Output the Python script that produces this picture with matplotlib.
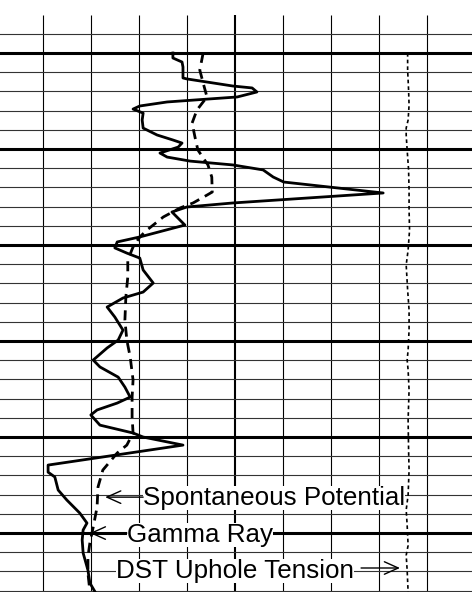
import matplotlib
matplotlib.use('Agg')
import matplotlib.pyplot as plt

# track scale: 0-100 across, 10 units per division
# depth: one unit per thin grid line, heavy line every 5
gr_x = [37.0, 37.0, 38.9, 39.1, 39.1, 39.9, 49.5, 53.5, 54.5, 50.4, 35.8, 30.1, 28.7, 30.8,
        30.6, 30.8, 33.7, 37.0, 38.9, 38.1, 34.3, 35.8, 40.6, 49.5, 55.8, 57.9, 60.1, 80.8,
        49.5, 39.9, 36.8, 39.5, 30.1, 25.4, 24.9, 27.4, 30.1, 30.8, 32.9, 30.8, 26.6, 23.3,
        24.9, 26.6, 25.6, 23.3, 20.4, 21.8, 25.6, 27.0, 28.1, 25.4, 21.2, 19.9, 21.8, 28.7,
        30.8, 39.1, 11.0, 11.0, 12.4, 13.1, 14.9, 17.6, 19.1, 18.3, 18.1, 18.3, 19.3, 19.7, 20.8]
gr_depth = [2.00, 2.26, 2.47, 2.73, 3.30, 3.35, 3.72, 3.82, 4.03, 4.29, 4.55, 4.76, 4.92, 5.13,
            5.49, 5.91, 6.27, 6.53, 6.69, 6.90, 7.21, 7.42, 7.63, 7.83, 8.09, 8.46, 8.72, 9.29,
            9.81, 10.02, 10.28, 10.96, 11.58, 11.84, 12.15, 12.42, 12.68, 13.30, 13.98, 14.45, 14.76, 15.23,
            15.75, 16.43, 16.95, 17.36, 17.99, 18.35, 18.88, 19.40, 19.92, 20.23, 20.59, 20.85, 21.38, 21.79,
            22.00, 22.42, 23.46, 23.83, 24.08, 24.76, 25.28, 25.96, 26.48, 26.84, 27.36, 28.04, 28.93, 29.60, 30.07]

sp_x = [43.3, 42.6, 43.3, 44.1, 42.0, 41.0, 41.6, 42.2, 44.3, 45.1, 45.2, 44.1, 41.2, 38.5,
        35.0, 31.6, 30.1, 28.7, 27.6, 27.6, 27.2, 27.0, 27.4, 28.1, 28.7, 28.5, 28.5, 28.7,
        27.4, 25.4, 22.4, 21.4, 21.2, 20.4, 19.7, 19.3, 19.3, 19.7]
sp_depth = [2.00, 2.89, 3.56, 4.29, 4.97, 5.65, 6.38, 7.05, 7.83, 8.46, 9.24, 9.40, 9.81, 10.07,
            10.54, 11.22, 11.58, 12.10, 12.78, 13.67, 14.71, 15.91, 16.95, 17.83, 19.03, 19.92, 20.96, 21.79,
            22.42, 22.83, 23.72, 24.60, 25.65, 26.69, 27.52, 28.24, 29.09, 30.01]

dst_x = [85.9, 85.9, 86.1, 86.2, 86.0, 85.6, 85.6, 85.8, 86.1, 86.2, 86.2, 86.3, 86.0, 85.6,
         85.9, 86.2, 86.2, 86.0, 85.8, 86.0, 86.2, 86.0, 86.1, 86.2, 86.0, 85.6, 85.8, 86.0,
         85.6, 85.8, 86.0]
dst_depth = [2.00, 2.89, 3.93, 4.71, 5.49, 5.91, 6.27, 7.05, 8.09, 9.14, 10.18, 11.22, 12.26, 13.04,
             14.34, 15.39, 16.43, 17.47, 17.99, 18.51, 19.55, 21.11, 22.68, 23.72, 25.02, 25.80, 26.58, 27.64,
             28.16, 28.93, 30.07]

labels = ['Spontaneous Potential', 'Gamma Ray', 'DST Uphole Tension']
label_x = [30.8, 27.4, 25.1]
label_base = [25.54, 27.45, 29.33]
arrow_tail = [(30.8, 25.13), (27.4, 27.0), (76.2, 28.82)]
arrow_tip = [(22.9, 25.13), (19.7, 27.0), (84.3, 28.82)]

fig = plt.figure(figsize=(4.72, 5.92), dpi=100)
ax = fig.add_axes([0, 0, 1, 1])
ax.set_xlim(0.98, 99.31)
ax.set_ylim(30.07, -0.76)
ax.axis('off')

# grid
for v in range(10, 100, 10):
    ax.vlines(v, 0, 31, color='black', lw=1.5 if v == 50 else 0.8, zorder=1)
for d in range(1, 31):
    heavy = (d - 2) % 5 == 0
    ax.hlines(d, 0, 100, color='black' if heavy else '#333333',
              lw=2.2 if heavy else 0.8, zorder=1)

ax.plot(gr_x, gr_depth, '-', color='black', lw=2.0, zorder=4)
ax.plot(sp_x, sp_depth, color='black', lw=2.0, dashes=(3.6, 2.3), zorder=4)
ax.plot(dst_x, dst_depth, color='black', lw=1.2, dashes=(2.2, 1.8), zorder=4)

for i, lab in enumerate(labels):
    ax.text(label_x[i], label_base[i], lab, ha='left', va='baseline',
            fontsize=18.7, family='Liberation Sans', zorder=3,
            bbox=dict(facecolor='white', edgecolor='none', pad=0))
    ax.annotate('', xy=arrow_tip[i], xytext=arrow_tail[i], zorder=3,
                arrowprops=dict(arrowstyle='->,head_length=1.0,head_width=0.45',
                                lw=1, color='black', shrinkA=0, shrinkB=0,
                                mutation_scale=10))

fig.savefig('out.png', dpi=100)
